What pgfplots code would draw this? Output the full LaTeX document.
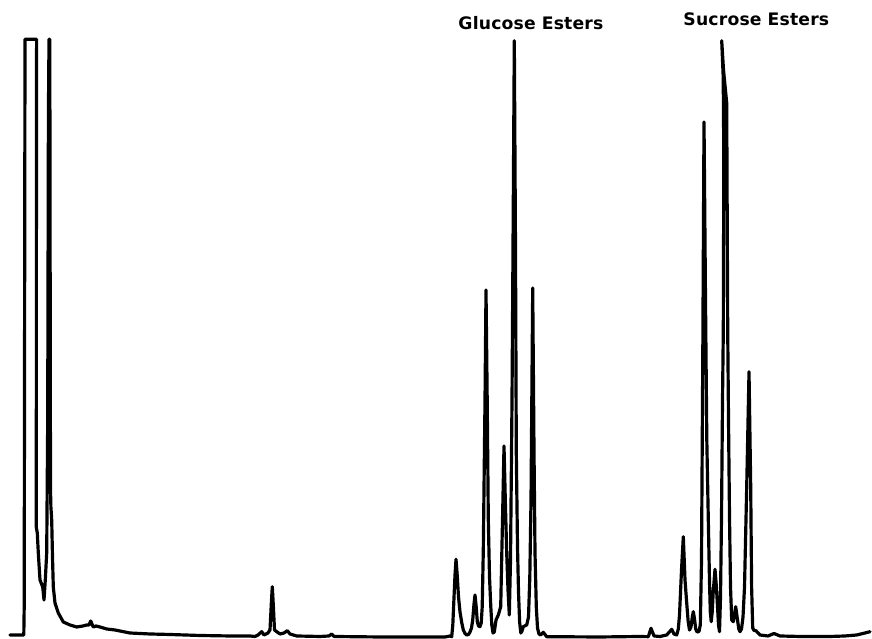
\documentclass[border=0pt]{standalone}
\usepackage{pgfplots}
\pgfplotsset{compat=1.18}
\usepackage{fontspec}
\newfontfamily\labelfont[LetterSpace=1]{DejaVu Sans Bold}
\begin{document}
\begin{tikzpicture}
\begin{axis}[
  width=13cm, height=9.526cm, scale only axis,
  xmin=0, xmax=872, ymin=-2, ymax=637,
  hide axis, clip=false,
]
\path (rel axis cs:0,0) rectangle (rel axis cs:1,1);
\addplot[black, line width=1.35pt, line join=round, line cap=round] coordinates {
(10,2) (23.8,2) (24.2,30) (25,597.7) (36.6,597.7) (36.4,400) (36.3,110) (37.3,104) (38.3,84) (40,57) (42.7,50) (44,37)
(45.3,57) (46.7,84) (47.7,217) (48.4,520) (49,597.7) (49.8,597.7) (50.2,337) (50.5,147) (50.9,130) (51.7,117)
(52.5,80) (53.3,50) (55,34) (58.3,24) (63.3,15) (70,12) (76.7,10) (83,11) (86.7,12) (89,12) (90.7,16) (92,13) (93.3,10)
(96,11) (100,10) (106.7,8) (115,7) (130,4) (150,3) (170,2.5) (200,1.5) (230,1) (245,1) (250,1) (255,0.5)
(258,2) (261.7,5.3) (264,2) (268,4) (270,7) (271.5,37) (272.3,50.3) (273.3,32) (274.5,7) (276.7,5.3) (280,3)
(284,4) (287.3,6.3) (290,3) (296.7,1) (320,0.5) (329,1) (331.7,3) (334,0.5) (380,0) (420,0) (445,0) (450,1)
(451.7,0.3) (452.8,12) (453.8,35) (455,62) (456,77.7) (457.2,62) (458.5,40) (460,25) (461.8,14) (463.3,7) (465,3.5) (466.7,2)
(468.5,2.5) (470,5) (471.5,9) (472.7,17) (474,33) (475,42) (476.2,30) (477.3,15.3) (478.5,11) (480,10.3) (481.2,14) (482.2,30)
(483.3,87) (485,237) (486,347) (487.2,237) (488.3,117) (489.5,60) (490.8,30) (491.8,12) (493,4) (494.3,5)
(496,17) (498.3,22) (500.7,30.3) (502.5,117) (504,191) (505.3,137) (506.7,84) (508,47) (509.3,22)
(510.5,77) (512,237) (513.3,437) (514.3,596.3) (515.5,387) (516.3,184) (517.5,90) (518.5,45) (519.6,15) (520.8,4) (522,6) (523.3,10.3)
(526.7,12) (528.5,20) (529.8,60) (531,137) (532.7,349) (534,187) (535,84) (536.3,30) (537.5,9) (539,3) (540.5,2) (543.3,4.7) (546.7,0.3)
(600,0) (640,0.5) (648.3,0.3) (651,8.7) (654,1) (660,0.5) (666.7,2) (671.7,7.7) (674,3) (676.7,2) (678.3,8) (679.5,22)
(681.5,67) (683.3,100.3) (685,57) (686.7,34) (688.2,15) (689.5,7) (691,10) (692.3,20) (693.3,25.3) (694.5,18) (695.7,8) (697,5) (699,5.5) (700.3,12)
(701.5,77) (702.8,287) (704,515) (705.5,337) (706.8,197) (708.3,117) (709.5,55) (710.3,25) (711.2,15.3) (712.2,25) (713.2,45) (715,67.7) (716.4,50) (717.3,34) (718.5,12) (719.5,5.3)
(720.5,40) (721.5,120) (722.5,237) (723.3,307) (723.8,480) (723.2,560) (721.7,596.3) (723.5,567) (726.7,534) (727.7,307)
(728.5,217) (729.5,120) (730.5,50) (731.7,17) (733.3,15.3) (735.7,30.3) (737.5,17) (738.8,8) (740,5.3) (741.5,8) (743,20) (744.5,50) (746.7,150.3)
(749,265.3) (750.7,150.3) (751.6,50) (752.7,9) (754,6.5) (756,6.3) (758,4) (760,2) (768,1) (774,3.5) (780,1) (800,0.5) (830,0.5)
(845,1) (856.7,2) (865,4) (870,5.3)
};
\node[anchor=base west, inner sep=0pt, font=\labelfont\fontsize{7.3}{9}\selectfont] at (axis cs:458,607.5) {Glucose Esters};
\node[anchor=base west, inner sep=0pt, font=\labelfont\fontsize{7.3}{9}\selectfont] at (axis cs:683,611) {Sucrose Esters};
\end{axis}
\end{tikzpicture}
\end{document}
